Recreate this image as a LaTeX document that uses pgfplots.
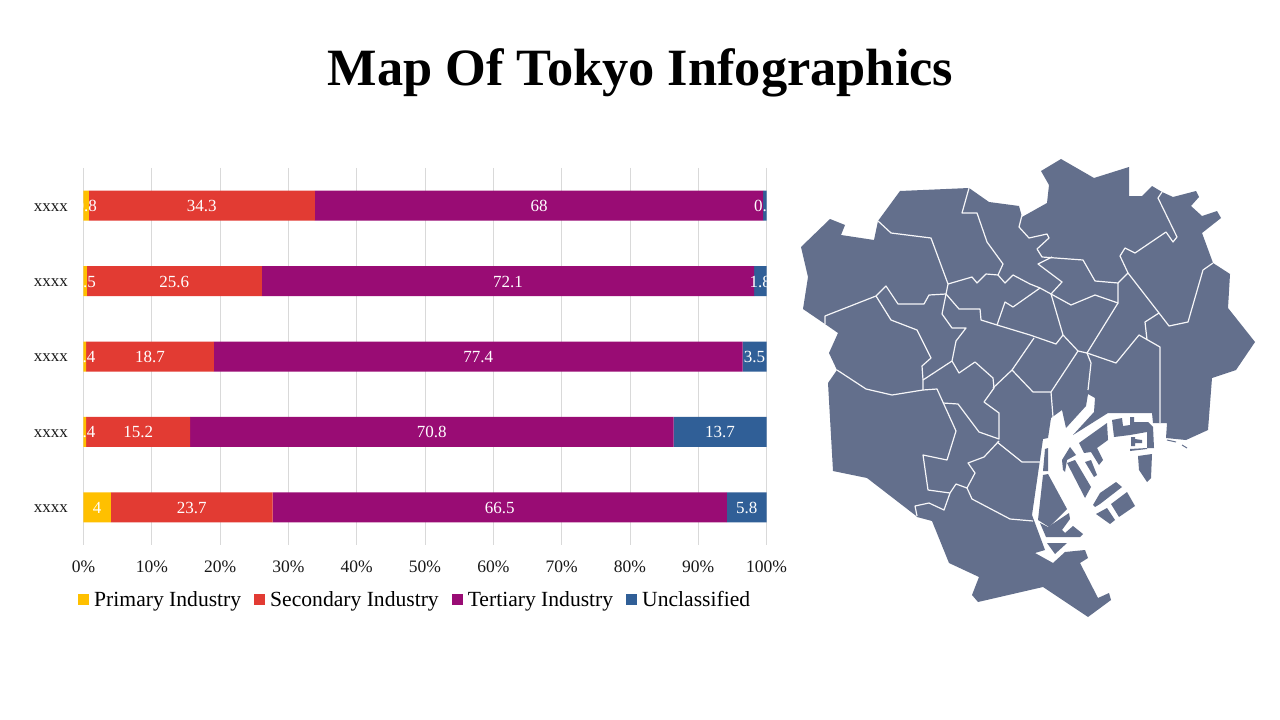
\documentclass[border=0pt]{standalone}
\usepackage{fontspec}
\usepackage{pgfplots}
\usepackage{pgfplotstable}
\pgfplotsset{compat=1.18}
\setmainfont{Liberation Serif}

\definecolor{cprim}{HTML}{FFC000}
\definecolor{csec}{HTML}{E23B33}
\definecolor{cter}{HTML}{990C74}
\definecolor{cunc}{HTML}{305F97}
\definecolor{cmap}{HTML}{636F8C}
\definecolor{cgrid}{HTML}{D9D9D9}

% shares, scaled to 100 for each row
\pgfplotstableread{
y primary secondary tertiary other
0 0.77 33.11 65.64 0.48
1 0.5 25.6 72.1 1.8
2 0.4 18.7 77.4 3.5
3 0.4 15.2 70.8 13.6
4 4 23.7 66.5 5.8
}\shares

% label positions (middle of each segment) and printed value
\pgfplotstableread{
x y label
0.39 0 0.8
17.33 0 34.3
66.70 0 68
99.76 0 0.5
0.25 1 0.5
13.3 1 25.6
62.15 1 72.1
99.1 1 1.8
0.2 2 0.4
9.75 2 18.7
57.8 2 77.4
98.25 2 3.5
0.2 3 0.4
8.0 3 15.2
51.0 3 70.8
93.2 3 13.7
2 4 4
15.85 4 23.7
60.95 4 66.5
97.1 4 5.8
}\seglabels

\pgfplotsset{
  land/.style={fill=cmap,draw=none},
  ward/.style={draw=white!94!cmap,line width=1.2pt,line join=round},
}

\begin{document}
\begin{tikzpicture}[x=1pt,y=1pt]
\path[use as bounding box,fill=white] (0,0) rectangle (1280,720);

% map, in picture pixels
\begin{axis}[at={(0,0)},anchor=south west,scale only axis,width=1280pt,height=720pt,
  xmin=0,xmax=1280,ymin=0,ymax=720,y dir=reverse,hide axis,clip=false]
\addplot[land] coordinates {
(801,247)(830,219)(845,225)(841,235)(874,240)(878,221)(900,191)(969,188)(989,202)(1019,206)(1022,217)
(1047,203)(1049,185)(1041,171)(1061,159)(1094,178)(1129,167)(1129,196)(1142,196)(1152,186)(1162,192)
(1173,197)(1196,191)(1199,197)(1191,206)(1202,216)(1217,211)(1221,218)(1202,233)(1213,263)(1230,274)
(1228,308)(1255,342)(1236,370)(1212,378)(1208,430)(1186,440)(1166,438)(1167,423)(1153,423)(1152,413)
(1108,413)(1073,435)(1094,412)(1095,398)(1088,394)(1086,406)(1066,428)(1062,410)(1051,418)(1048,438)
(1043,439)(1032,515)(1045,550)(1035,553)(1053,563)(1065,552)(1085,550)(1088,558)(1080,563)(1098,598)
(1109,593)(1111,600)(1088,617)(1043,587)(978,602)(972,595)(979,577)(949,563)(932,521)(917,517)(915,515)
(867,478)(833,471)(828,383)(837,370)(829,353)(838,333)(825,324)(803,309)(808,277)
} --cycle;
% islands and piers in the bay
\addplot[land] coordinates {(1043,475)(1048,474)(1067,509)(1049,527)(1038,520)} --cycle;
\addplot[land] coordinates {(1045,449)(1048,448)(1048,471)(1043,471)} --cycle;
\addplot[land] coordinates {(1069,513)(1070,519)(1062,530)(1065,533)(1073,526)(1083,534)(1080,537)(1046,537)(1040,523)(1048,527)} --cycle;
\addplot[land] coordinates {(1047,543)(1067,543)(1055,554)} --cycle;
\addplot[land] coordinates {(1079,443)(1107,423)(1108,440)(1097,448)(1103,460)(1099,465)(1091,452)(1084,453)} --cycle;
\addplot[land] coordinates {(1085,462)(1091,460)(1097,475)(1094,477)} --cycle;
\addplot[land] coordinates {(1067,463)(1075,460)(1091,487)(1085,498)} --cycle;
\addplot[land] coordinates {(1062,460)(1070,447)(1076,455)(1067,460)(1065,472)(1063,470)} --cycle;
\addplot[land] coordinates {(1112,420)(1122,418)(1123,426)(1130,425)(1130,417)(1134,417)(1134,422)(1148,422)(1153,427)(1154,448)(1147,448)(1147,432)(1130,435)(1114,437)} --cycle;
\addplot[land] coordinates {(1131,437)(1135,437)(1135,439)(1142,440)(1142,443)(1135,443)(1135,446)(1131,446)} --cycle;
\addplot[land] coordinates {(1130,449)(1147,448)(1147,449)(1130,451)} --cycle;
\addplot[land] coordinates {(1138,456)(1152,454)(1151,478)(1147,482)(1139,470)} --cycle;
\addplot[land] coordinates {(1093,505)(1100,493)(1116,482)(1122,487)(1100,504)(1095,507)} --cycle;
\addplot[land] coordinates {(1111,504)(1127,492)(1135,506)(1119,517)} --cycle;
\addplot[land] coordinates {(1096,514)(1107,508)(1115,520)(1110,524)} --cycle;
\addplot[draw=cmap,line width=1pt] coordinates {(1167,440)(1176,442)};
\addplot[draw=cmap,line width=1pt] coordinates {(1182,445)(1187,448)};
% ward borders
\addplot[ward] coordinates {(878,221)(891,233)(931,238)(948,284)(946,294)(929,295)(924,304)(898,304)(886,286)(876,296)(825,316)(825,324)};
\addplot[ward] coordinates {(876,296)(891,320)(917,330)(931,358)(922,366)(923,380)(923,390)};
\addplot[ward] coordinates {(837,370)(866,389)(892,395)(923,390)(937,389)(956,431)(947,460)(923,455)(928,490)(950,493)(944,510)(929,503)(915,506)(917,516)};
\addplot[ward] coordinates {(943,403)(958,404)(979,432)(999,439)(999,413)(984,402)(994,388)(993,378)(975,362)(959,373)(952,361)(956,341)(966,328)(952,328)(942,314)(946,294)};
\addplot[ward] coordinates {(952,361)(923,380)};
\addplot[ward] coordinates {(999,441)(984,457)(968,463)(975,473)(967,488)(956,484)(950,493)};
\addplot[ward] coordinates {(967,488)(972,499)(1010,519)(1033,521)};
\addplot[ward] coordinates {(997,442)(1022,462)(1043,462)};
\addplot[ward] coordinates {(993,388)(1012,370)(1033,392)(1051,392)(1078,351)};
\addplot[ward] coordinates {(1051,392)(1053,417)};
\addplot[ward] coordinates {(948,284)(972,277)(977,283)(986,274)(998,275)(1003,264)(987,242)(977,213)(962,213)(969,188)};
\addplot[ward] coordinates {(998,275)(1005,283)(1013,275)(1030,284)(1040,288)(1051,294)};
\addplot[ward] coordinates {(946,294)(959,309)(980,309)(981,320)(997,325)(1030,335)(1056,344)(1063,335)};
\addplot[ward] coordinates {(997,325)(1005,302)(1013,307)(1040,288)};
\addplot[ward] coordinates {(1012,370)(1034,338)};
\addplot[ward] coordinates {(1022,215)(1019,227)(1029,238)(1047,234)(1049,238)(1037,249)(1042,257)(1083,260)(1095,281)(1118,283)(1128,273)(1120,256)(1125,248)(1135,253)(1166,232)(1173,242)(1177,237)(1158,198)(1162,192)};
\addplot[ward] coordinates {(1052,257)(1038,264)(1062,282)(1051,294)(1071,305)(1095,295)(1118,303)(1118,283)};
\addplot[ward] coordinates {(1051,294)(1063,335)(1078,351)(1087,353)(1118,303)};
\addplot[ward] coordinates {(1087,353)(1091,363)(1088,390)};
\addplot[ward] coordinates {(1087,353)(1116,363)(1139,335)(1160,347)(1160,423)};
\addplot[ward] coordinates {(1128,273)(1159,313)(1169,326)(1188,322)(1203,270)(1213,263)};
\addplot[ward] coordinates {(1159,313)(1145,322)(1147,340)};
\node[font=\fontsize{52.4}{62}\selectfont\bfseries,text=black] at (axis cs:640.5,73) {Map Of Tokyo Infographics};
\end{axis}

% stacked bars
\begin{axis}[at={(83.5pt,175pt)},anchor=south west,scale only axis,width=683pt,height=377pt,
  xbar stacked,bar width=30pt,
  xmin=0,xmax=100,ymin=-0.5,ymax=4.5,y dir=reverse,
  xtick={0,10,...,100},xticklabel={\pgfmathprintnumber{\tick}\%},
  ytick={0,1,2,3,4},yticklabels={xxxx,xxxx,xxxx,xxxx,xxxx},
  /pgf/number format/assume math mode=true,
  xmajorgrids,major grid style={cgrid,line width=0.8pt},
  axis line style={draw=none},major tick length=0pt,
  tick label style={text=black!90},
  xticklabel style={font=\fontsize{17.5}{21}\selectfont,yshift=-12pt},
  yticklabel style={font=\fontsize{17}{20}\selectfont,xshift=-12pt,yshift=-1.5pt},
  legend columns=4,
  legend style={at={(axis description cs:-0.008,-0.145)},anchor=west,draw=none,fill=none,
    font=\fontsize{21.6}{26}\selectfont,inner sep=0pt,
    /tikz/every odd column/.append style={column sep=3pt},
    /tikz/every even column/.append style={column sep=11pt}},
  legend image code/.code={\fill[#1] (0pt,-5.5pt) rectangle (11pt,5.5pt);},
]
\addplot[fill=cprim,draw=none] table[x=primary,y=y] {\shares};
\addplot[fill=csec,draw=none] table[x=secondary,y=y] {\shares};
\addplot[fill=cter,draw=none] table[x=tertiary,y=y] {\shares};
\addplot[fill=cunc,draw=none] table[x=other,y=y] {\shares};
\legend{Primary Industry,Secondary Industry,Tertiary Industry,Unclassified}
\end{axis}

% white values in the segments
\begin{axis}[at={(83.5pt,175pt)},anchor=south west,scale only axis,width=683pt,height=377pt,
  xmin=0,xmax=100,ymin=-0.5,ymax=4.5,y dir=reverse,hide axis]
\addplot[draw=none,mark=none,point meta=explicit symbolic,
  nodes near coords={\pgfplotspointmeta},
  every node near coord/.append style={anchor=center,text=white,yshift=-0.5pt,font=\fontsize{17}{20}\selectfont}]
  table[x=x,y=y,meta=label] {\seglabels};
\end{axis}
\end{tikzpicture}
\end{document}
